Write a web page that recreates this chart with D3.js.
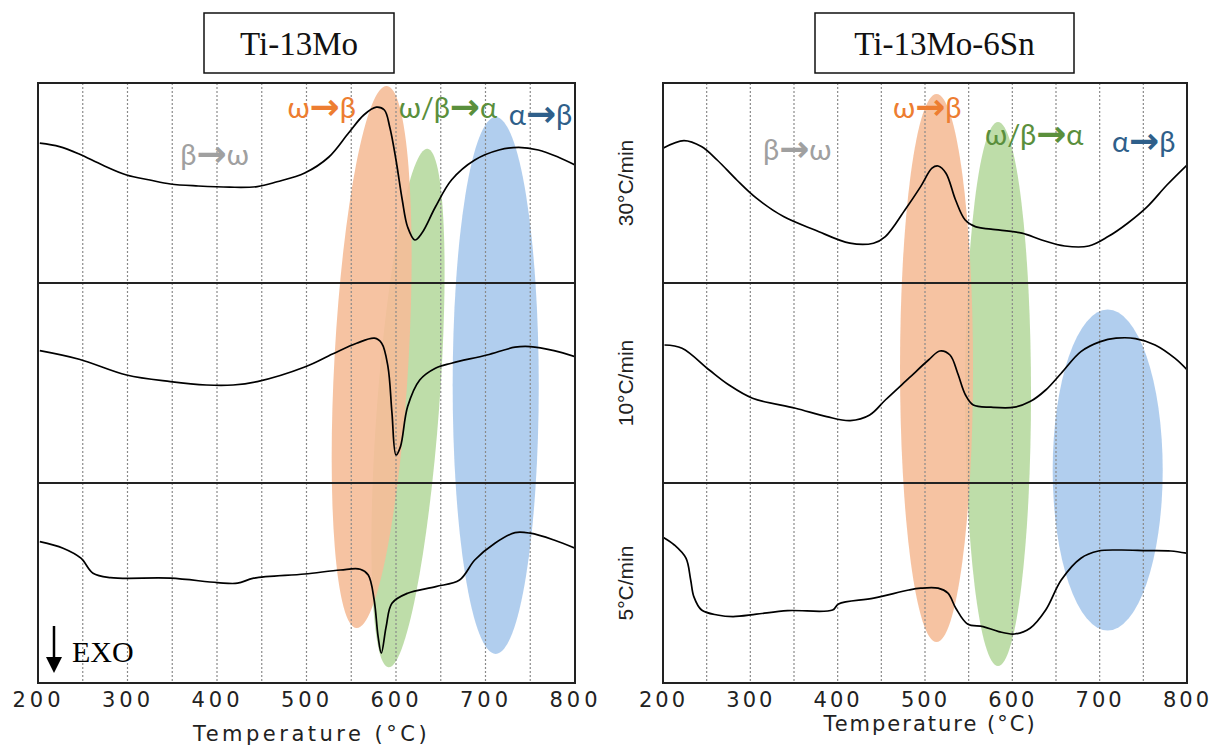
<!DOCTYPE html>
<html>
<head>
<meta charset="utf-8">
<script src="https://cdn.jsdelivr.net/npm/d3@7"></script>
<style>
  body { margin: 0; background: #fff; }
</style>
</head>
<body>
<svg width="1213" height="747"></svg>
<script>
var tempTicks = [200, 300, 400, 500, 600, 700, 800];
var gridTemps = [250, 300, 350, 400, 450, 500, 550, 600, 650, 700, 750];
var rateLabels = ["30°C/min", "10°C/min", "5°C/min"];

// DSC traces, [temperature °C, signal] ; signal 0-100 inside its own row
var mo30 = [[202,69.9],[224,68.2],[246,64.5],[272,59],[299,54],[325,51.5],[348,49.5],[379,48.5],[414,47.9],[445,48.2],
  [467,50.6],[498,55],[525,63],[547,75],[564,84],[578,87.9],[587,86.5],[593,78],[600,61.5],[607,41.5],[613,28],
  [621,21.5],[629,25],[644,38],[662,51.5],[688,61.5],[715,66.5],[737,67.8],[759,66.5],[781,63],[800,59]];
var mo10 = [[202,66.2],[246,61.9],[299,54],[348,50.7],[388,49],[418,49],[445,50.7],[498,58],[529,64.5],[556,69.9],
  [576,72.4],[584,69.9],[591,58.2],[595.5,34.9],[600,14],[605,18.2],[613,38.2],[626.5,51.5],[644,57.4],[662,59.9],
  [701.5,64],[733,67.9],[750,68.2],[776.5,66.2],[800,63.2]];
var mo5 = [[202,70.7],[228,67.4],[248,62.4],[261.5,54.9],[281,52.7],[348,52.4],[400.5,50.2],[423,49.9],[441,52.4],
  [498,54.5],[538,56.5],[560,56.9],[569,54],[575.6,41.5],[580,23.2],[583.6,14.9],[589,28.2],[595.5,39.9],[613,44.9],
  [644.5,48.2],[671,51.5],[688,61.5],[710.5,69.9],[733,75.2],[750,74.9],[776.5,71.5],[800,67.4]];

var sn30 = [[200,67.4],[224,71.2],[244,68.2],[262,61.5],[284.5,51.5],[307,42.4],[338,33.2],[374,26.5],[414,19.9],
  [441,19.9],[454.6,23.2],[477,36.5],[495,48.2],[508,57.4],[515,58.5],[524,54.9],[535,41.5],[546,31.5],[557.6,28.2],
  [575.6,26.9],[611,24.9],[633.6,21.5],[660,18.5],[687.5,18.5],[709.6,23.2],[732,29.9],[754.6,38.2],[777,49],[800,59]];
var sn10 = [[201.7,69],[221.8,67.4],[253,56.5],[275.6,49],[302.5,42.4],[351.7,37.4],[387.4,33.2],[414.4,31.2],
  [436.7,34],[454.6,41.5],[481.5,52.4],[504,61.5],[517,66],[528.6,64],[537.4,54.9],[546.4,44],[555.3,39],[575.6,37.9],
  [602.4,37.9],[620.3,40.7],[638.2,46.5],[656,54.9],[678.5,65.7],[700.8,70.7],[718.7,72.4],[741,72.2],[763.5,69],
  [786,62.4],[799.4,56.9]];
var sn5 = [[200,72.9],[213,69],[226.3,62.4],[231.7,51.5],[235.3,43.2],[244.2,36.5],[262.2,34],[280.2,33.2],[307,34.4],
  [342.7,36.2],[394.2,36.5],[401,39.5],[441.3,42.4],[481.5,46.5],[495,47.4],[515,47.4],[526.3,44.9],[535.3,37.4],
  [548.7,29.5],[566.5,28.2],[584.5,25.7],[602.4,24.5],[620.3,27.4],[638.2,36.5],[656,51.5],[678.5,62.4],[698.6,66],
  [723.3,66.5],[754.6,66.2],[781.5,66],[799.4,64.9]];

// shaded zones: centre temp, half width (°C), centre level, half height (stack units 0-300), tilt
var moZones = [
  { fill: "#a9c9ec", t: 711.4, dt: 48.1, v: 148.75, dv: 134.25, tilt: 0 },
  { fill: "#b7d9a0", t: 613.4, dt: 34.7, v: 137.5, dv: 130, tilt: 4.3 },
  { fill: "#f5bd98", t: 572.8, dt: 41.4, v: 163, dv: 135.75, tilt: 3.2 }
];
var snZones = [
  { fill: "#a9c9ec", t: 709.2, dt: 63, v: 106.5, dv: 80.25, tilt: 0 },
  { fill: "#b7d9a0", t: 583.6, dt: 37.8, v: 144.5, dv: 136, tilt: 0 },
  { fill: "#f5bd98", t: 513.2, dt: 41.8, v: 157.5, dv: 137, tilt: 0 }
];

var moLabels = [
  { a: "β", b: "ω", color: "#a0a0a0", t: 359, v: 259 },
  { a: "ω", b: "β", color: "#ed7d31", t: 478.7, v: 282.5 },
  { a: "ω/β", b: "α", color: "#5a8f3c", t: 603, v: 282.5 },
  { a: "α", b: "β", color: "#2f5f8a", t: 726, v: 279 }
];
var snLabels = [
  { a: "β", b: "ω", color: "#a0a0a0", t: 314.5, v: 261.5 },
  { a: "ω", b: "β", color: "#ed7d31", t: 463.4, v: 282.5 },
  { a: "ω/β", b: "α", color: "#5a8f3c", t: 568.7, v: 269 },
  { a: "α", b: "β", color: "#2f5f8a", t: 714, v: 265.5 }
];

var svg = d3.select("svg");
var top0 = 83, bottom0 = 683;

var panels = [
  { title: "Ti-13Mo", left: 38, right: 575, box: [204, 13, 190, 60], traces: [mo30, mo10, mo5],
    zones: moZones, labels: moLabels, rates: false, exo: true, xlabelY: 741, spacing: 4, xlabelSpacing: 3.5 },
  { title: "Ti-13Mo-6Sn", left: 663, right: 1187, box: [815, 13, 259, 60], traces: [sn30, sn10, sn5],
    zones: snZones, labels: snLabels, rates: true, exo: false, xlabelY: 731, spacing: 3, xlabelSpacing: 2 }
];

var y = d3.scaleLinear().domain([0, 300]).range([bottom0, top0]);

panels.forEach(function(p, pi) {
  var x = d3.scaleLinear().domain([200, 800]).range([p.left, p.right]);
  var g = svg.append("g");

  g.append("clipPath").attr("id", "clip" + pi)
    .append("rect")
    .attr("x", p.left).attr("y", top0)
    .attr("width", p.right - p.left).attr("height", bottom0 - top0);

  var inner = g.append("g").attr("clip-path", "url(#clip" + pi + ")");

  // shaded zones
  inner.selectAll("ellipse")
    .data(p.zones)
    .enter().append("ellipse")
    .attr("cx", 0).attr("cy", 0)
    .attr("rx", function(d) { return x(d.t + d.dt) - x(d.t); })
    .attr("ry", function(d) { return y(d.v - d.dv) - y(d.v); })
    .attr("transform", function(d) { return "translate(" + x(d.t) + "," + y(d.v) + ") rotate(" + d.tilt + ")"; })
    .attr("fill", function(d) { return d.fill; })
    .attr("fill-opacity", 0.9);

  // dotted grid
  inner.selectAll("line.grid")
    .data(gridTemps)
    .enter().append("line")
    .attr("class", "grid")
    .attr("x1", function(d) { return x(d); }).attr("x2", function(d) { return x(d); })
    .attr("y1", top0).attr("y2", bottom0)
    .attr("stroke", "#8a8a8a").attr("stroke-width", 1.2)
    .attr("stroke-dasharray", "2,2");

  // traces
  p.traces.forEach(function(tr, r) {
    var line = d3.line()
      .x(function(d) { return x(d[0]); })
      .y(function(d) { return y(d[1] + (2 - r) * 100); })
      .curve(d3.curveCatmullRom.alpha(0.5));
    inner.append("path")
      .datum(tr)
      .attr("d", line)
      .attr("fill", "none")
      .attr("stroke", "#000")
      .attr("stroke-width", 1.7);
  });

  // row dividers
  g.selectAll("line.div")
    .data([100, 200])
    .enter().append("line")
    .attr("class", "div")
    .attr("x1", p.left).attr("x2", p.right)
    .attr("y1", function(d) { return y(d); }).attr("y2", function(d) { return y(d); })
    .attr("stroke", "#222").attr("stroke-width", 2);

  g.append("rect")
    .attr("x", p.left).attr("y", top0)
    .attr("width", p.right - p.left).attr("height", bottom0 - top0)
    .attr("fill", "none").attr("stroke", "#222").attr("stroke-width", 2);

  // axis
  var ax = g.append("g")
    .attr("transform", "translate(0," + bottom0 + ")")
    .call(d3.axisBottom(x).tickValues(tempTicks).tickSize(0).tickPadding(9).tickFormat(d3.format("d")));
  ax.select(".domain").remove();
  ax.selectAll("text")
    .attr("font-family", "DejaVu Sans, sans-serif")
    .attr("font-size", 21)
    .attr("fill", "#222")
    .attr("letter-spacing", p.spacing + "px");

  g.append("text")
    .attr("x", (p.left + p.right) / 2 + 5)
    .attr("y", p.xlabelY)
    .attr("text-anchor", "middle")
    .attr("font-family", "DejaVu Sans, sans-serif")
    .attr("font-size", 21)
    .attr("letter-spacing", p.xlabelSpacing + "px")
    .attr("fill", "#222")
    .text("Temperature (°C)");

  // title box
  g.append("rect")
    .attr("x", p.box[0]).attr("y", p.box[1])
    .attr("width", p.box[2]).attr("height", p.box[3])
    .attr("fill", "#fff").attr("stroke", "#111").attr("stroke-width", 1.5);
  g.append("text")
    .attr("x", p.box[0] + p.box[2] / 2)
    .attr("y", p.box[1] + 42)
    .attr("text-anchor", "middle")
    .attr("font-family", "Liberation Serif, serif")
    .attr("font-size", 33)
    .attr("fill", "#111")
    .text(p.title);

  // transformation labels
  var lab = g.selectAll("text.lab")
    .data(p.labels)
    .enter().append("text")
    .attr("class", "lab")
    .attr("x", function(d) { return x(d.t); })
    .attr("y", function(d) { return y(d.v); })
    .attr("font-family", "Lato, Noto Sans, sans-serif")
    .attr("font-size", 29)
    .attr("fill", function(d) { return d.color; });
  lab.append("tspan").text(function(d) { return d.a; });
  lab.append("tspan")
    .attr("font-weight", "bold")
    .attr("font-family", "DejaVu Sans, sans-serif")
    .attr("font-size", 36)
    .attr("dy", 1)
    .text("→");
  lab.append("tspan").attr("dy", -1).text(function(d) { return d.b; });

  if (p.rates) {
    g.selectAll("text.rate")
      .data(rateLabels)
      .enter().append("text")
      .attr("class", "rate")
      .attr("transform", function(d, i) { return "translate(626," + y(250 - i * 100) + ") rotate(-90)"; })
      .attr("text-anchor", "middle")
      .attr("dy", "0.35em")
      .attr("font-family", "Liberation Sans, Arial, sans-serif")
      .attr("font-size", 21)
      .attr("fill", "#222")
      .text(function(d) { return d; });
  }

  if (p.exo) {
    g.append("line")
      .attr("x1", 54).attr("x2", 54).attr("y1", 626).attr("y2", 660)
      .attr("stroke", "#000").attr("stroke-width", 2.5);
    g.append("path")
      .attr("d", "M46,657L62,657L54,673Z")
      .attr("fill", "#000");
    g.append("text")
      .attr("x", 72).attr("y", 662)
      .attr("font-family", "Liberation Serif, serif")
      .attr("font-size", 30)
      .attr("fill", "#000")
      .text("EXO");
  }
});
</script>
</body>
</html>
